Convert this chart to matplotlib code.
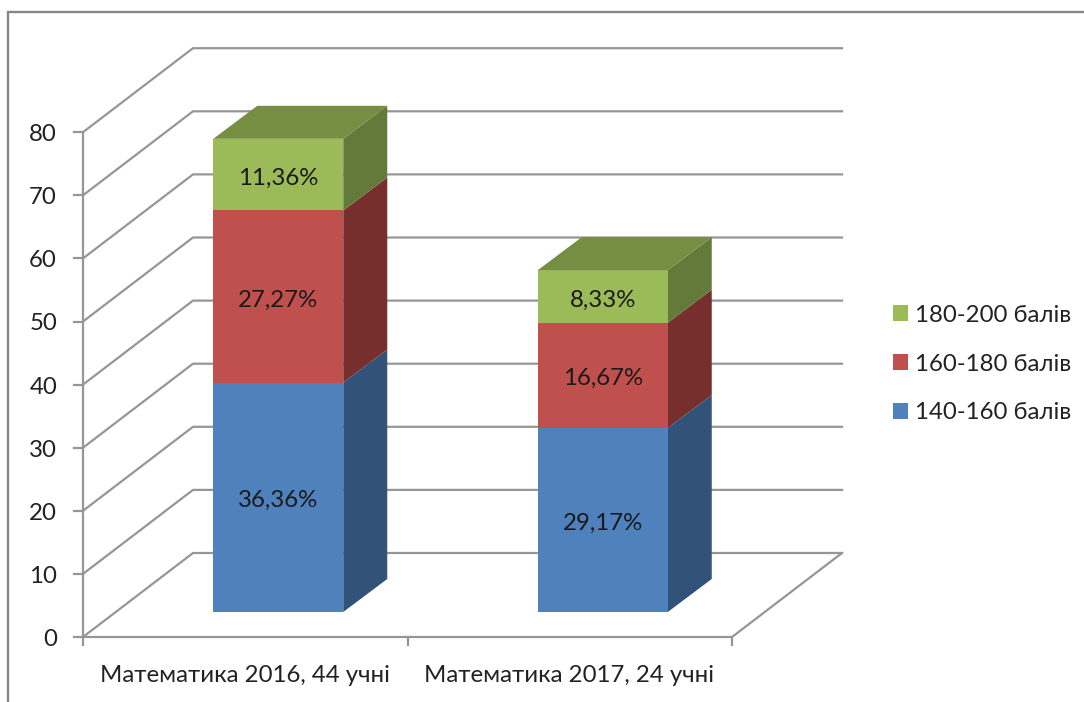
#!/usr/bin/env python3
"""Stacked 3D-look column chart, drawn as flat polygons in a pixel-sized axes"""

import matplotlib
matplotlib.use('Agg')
import matplotlib.pyplot as plt
from matplotlib.patches import Patch, Polygon

plt.rcParams['font.family'] = ['Lato', 'Open Sans', 'DejaVu Sans']

categories = ['Математика 2016, 44 учні', 'Математика 2017, 24 учні']
series_names = ['140-160 балів', '160-180 балів', '180-200 балів']
series_values = [
    [36.36, 29.17],
    [27.27, 16.67],
    [11.36, 8.33],
]
value_labels = [
    ['36,36%', '29,17%'],
    ['27,27%', '16,67%'],
    ['11,36%', '8,33%'],
]
y_ticks = [0, 10, 20, 30, 40, 50, 60, 70, 80]

front_colors = ['#4F81BD', '#C0504D', '#9BBB59']
side_colors = ['#325379', '#772F2D', '#647A3A']
top_colors = ['#3F6797', '#9A403E', '#758E42']
line_color = '#969696'
text_color = '#222222'
font_size = 17.3

# layout of the fake 3D box, in pixels
X0, X1 = 83, 732
Y0, PX_PER_UNIT = 637, 6.31
DEPTH_X, DEPTH_Y = 110, 84
BAR_WIDTH = 130
BAR_SHIFT = 33  # bars stand in the middle of the floor depth, so they sit right of the label
BAR_DX, BAR_DY = 44, 33
BAR_FRONT = 25  # how far the bar base sits up from the front floor edge


def py(value):
    return Y0 - value * PX_PER_UNIT


fig = plt.figure(figsize=(10.84, 7.02), dpi=100)
ax = fig.add_axes([0, 0, 1, 1])
ax.set_xlim(0, 1084)
ax.set_ylim(702, 0)
ax.axis('off')

# outer frame, only left and top show in the crop
ax.plot([8, 8, 1084], [702, 12, 12], color='#868686', lw=1.7, solid_joinstyle='miter')

# walls and gridlines
for t in y_ticks:
    y = py(t)
    ax.plot([X0, X0 + DEPTH_X, X1 + DEPTH_X], [y, y - DEPTH_Y, y - DEPTH_Y],
            color=line_color, lw=1.6)
    ax.plot([X0 - 9, X0], [y, y], color=line_color, lw=1.6)
    ax.text(57, y + 2.5, str(t), ha='right', va='center', fontsize=font_size, color=text_color)

# floor and axes
ax.plot([X0, X0], [py(0), py(y_ticks[-1])], color=line_color, lw=1.6)
ax.plot([X0, X1, X1 + DEPTH_X], [py(0), py(0), py(0) - DEPTH_Y], color=line_color, lw=1.6)
step = (X1 - X0) / len(categories)
for i in range(len(categories) + 1):
    ax.plot([X0 + i * step] * 2, [py(0), py(0) + 8], color=line_color, lw=1.6)

# stacked bars
base_y = py(0) - BAR_FRONT
for c, cat in enumerate(categories):
    x_mid = X0 + (c + 0.5) * step
    left = x_mid + BAR_SHIFT - 0.5 * BAR_WIDTH
    right = left + BAR_WIDTH
    bottom = 0
    for s in range(len(series_values)):
        val = series_values[s][c]
        y_low = base_y - bottom * PX_PER_UNIT
        y_high = base_y - (bottom + val) * PX_PER_UNIT
        ax.add_patch(Polygon([(right, y_low), (right + BAR_DX, y_low - BAR_DY),
                              (right + BAR_DX, y_high - BAR_DY), (right, y_high)],
                             facecolor=side_colors[s], edgecolor='none', zorder=3))
        ax.add_patch(Polygon([(left, y_low), (right, y_low), (right, y_high), (left, y_high)],
                             facecolor=front_colors[s], edgecolor='none', zorder=3))
        if s == len(series_values) - 1:
            ax.add_patch(Polygon([(left, y_high), (right, y_high),
                                  (right + BAR_DX, y_high - BAR_DY), (left + BAR_DX, y_high - BAR_DY)],
                                 facecolor=top_colors[s], edgecolor='none', zorder=3))
        ax.text((left + right) / 2, (y_low + y_high) / 2 + 3.5, value_labels[s][c],
                ha='center', va='center', fontsize=font_size, color='#1a1a1a', zorder=4)
        bottom += val
    ax.text(x_mid - 0.5, 675, cat, ha='center', va='center', fontsize=font_size, color=text_color)

# legend, top series first
handles = [Patch(facecolor=front_colors[s], edgecolor='none', label=series_names[s])
           for s in reversed(range(len(series_names)))]
ax.legend(handles=handles, loc='center left', bbox_to_anchor=(871.5, 364),
          bbox_transform=ax.transData, frameon=False, fontsize=font_size,
          handlelength=0.62, handleheight=0.62, handletextpad=0.3,
          labelspacing=1.156, labelcolor=text_color)

plt.savefig('out.png', dpi=100)
plt.close('all')
